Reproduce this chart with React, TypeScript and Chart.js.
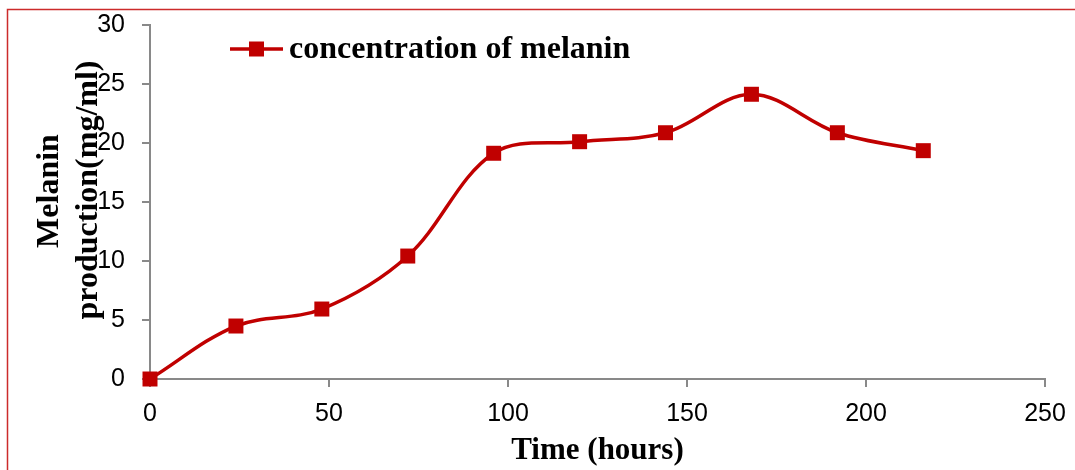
import React, { useEffect, useRef } from "react";
import { Chart, registerables } from "chart.js";

Chart.register(...registerables);

const hours = [0, 24, 48, 72, 96, 120, 144, 168, 192, 216];
const melanin = [0, 4.49, 5.93, 10.42, 19.13, 20.11, 20.87, 24.13, 20.87, 19.35];
const seriesLabel = "concentration of melanin";
const xTitle = "Time (hours)";
const yTitleLines = ["Melanin", "production(mg/ml)"];

const RED = "#C00000";
const GRAY = "#898989";
const TITLE_FONT = "bold 32px 'Liberation Serif'";

const framePlugin = {
  id: "frame",
  beforeDraw(chart: any) {
    const ctx = chart.ctx;
    ctx.save();
    ctx.strokeStyle = "#CC2B2B";
    ctx.lineWidth = 1.5;
    ctx.beginPath();
    ctx.moveTo(7.5, 470);
    ctx.lineTo(7.5, 9.5);
    ctx.lineTo(1075, 9.5);
    ctx.stroke();
    ctx.restore();
  },
};

const yTitlePlugin = {
  id: "yTitle",
  afterDraw(chart: any) {
    const ctx = chart.ctx;
    ctx.save();
    ctx.fillStyle = "#000";
    ctx.font = TITLE_FONT;
    ctx.textAlign = "center";
    ctx.textBaseline = "alphabetic";
    const placements = [
      { x: 58, y: 191 },
      { x: 97, y: 190 },
    ];
    yTitleLines.forEach((line, i) => {
      ctx.save();
      ctx.translate(placements[i].x, placements[i].y);
      ctx.rotate(-Math.PI / 2);
      ctx.fillText(line, 0, 0);
      ctx.restore();
    });
    ctx.restore();
  },
};

const legendPlugin = {
  id: "customLegend",
  afterDraw(chart: any) {
    const ctx = chart.ctx;
    const ds = chart.data.datasets[0];
    const y = 49;
    ctx.save();
    ctx.strokeStyle = ds.borderColor;
    ctx.lineWidth = 3.5;
    ctx.beginPath();
    ctx.moveTo(230, y);
    ctx.lineTo(283, y);
    ctx.stroke();
    ctx.fillStyle = ds.pointBackgroundColor;
    ctx.fillRect(249, y - 7.5, 15, 15);
    ctx.fillStyle = "#000";
    ctx.font = TITLE_FONT;
    ctx.textBaseline = "middle";
    ctx.textAlign = "left";
    ctx.fillText(ds.label, 289, y + 1);
    ctx.restore();
  },
};

export default function App() {
  const ref = useRef<HTMLCanvasElement>(null);
  useEffect(() => {
    if (!ref.current) return;
    const chart = new Chart(ref.current, {
      type: "line",
      data: {
        datasets: [
          {
            label: seriesLabel,
            data: hours.map((h, i) => ({ x: h, y: melanin[i] })),
            borderColor: RED,
            backgroundColor: RED,
            pointBackgroundColor: RED,
            pointBorderColor: RED,
            pointBorderWidth: 0,
            pointStyle: "rect",
            pointRadius: 10.6,
            borderWidth: 3.5,
            tension: 0.35,
            clip: false,
          } as any,
        ],
      },
      options: {
        responsive: false,
        animation: false,
        layout: { padding: { left: 0, top: 25, right: 30, bottom: 0 } },
        plugins: { legend: { display: false }, tooltip: { enabled: false } },
        scales: {
          x: {
            type: "linear",
            min: 0,
            max: 250,
            ticks: {
              stepSize: 50,
              color: "#000",
              padding: 12,
              font: { family: "'Liberation Sans'", size: 25 },
            },
            grid: { drawOnChartArea: false, drawTicks: true, tickLength: 8, color: GRAY, lineWidth: 2 },
            border: { color: GRAY, width: 2 },
            title: {
              display: true,
              text: xTitle,
              color: "#000",
              font: { family: "'Liberation Serif'", size: 31, weight: "bold" },
              padding: { top: 0, bottom: 0 },
            },
            afterFit(scale: any) {
              scale.height = 91;
              scale.paddingLeft = 0;
              scale.paddingRight = 0;
            },
          },
          y: {
            type: "linear",
            min: 0,
            max: 30,
            ticks: {
              stepSize: 5,
              color: "#000",
              padding: 17,
              font: { family: "'Liberation Sans'", size: 25 },
            },
            grid: { drawOnChartArea: false, drawTicks: true, tickLength: 8, color: GRAY, lineWidth: 2 },
            border: { color: GRAY, width: 2 },
            afterFit(scale: any) {
              scale.width = 150;
              scale.paddingTop = 0;
              scale.paddingBottom = 0;
            },
          },
        },
      } as any,
      plugins: [framePlugin, yTitlePlugin, legendPlugin],
    });
    return () => chart.destroy();
  }, []);
  return (
    <div style={{ position: "absolute", left: 0, top: 0, width: 1075, height: 470, background: "#fff" }}>
      <canvas ref={ref} width={1075} height={470} style={{ display: "block" }} />
    </div>
  );
}
